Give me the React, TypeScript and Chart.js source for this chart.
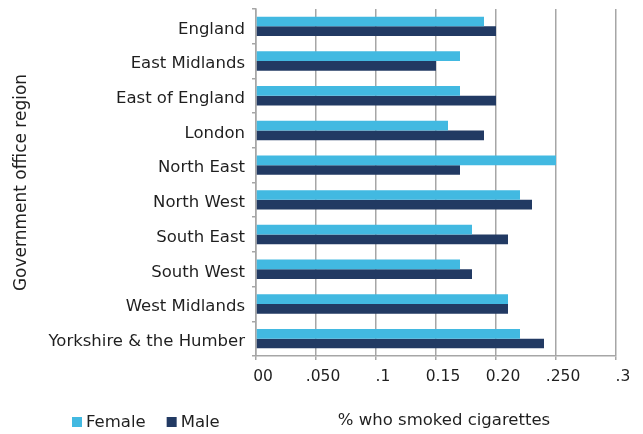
import { useEffect, useRef } from "react";
import { Chart, registerables } from "chart.js";

Chart.register(...registerables);

// Smoking prevalence by government office region
const regions = [
  "England",
  "East Midlands",
  "East of England",
  "London",
  "North East",
  "North West",
  "South East",
  "South West",
  "West Midlands",
  "Yorkshire & the Humber",
];
const femaleShare = [0.19, 0.17, 0.17, 0.16, 0.25, 0.22, 0.18, 0.17, 0.21, 0.22];
const maleShare = [0.2, 0.15, 0.2, 0.19, 0.17, 0.23, 0.21, 0.18, 0.21, 0.24];
const xTickLabels = ["00", ".050", ".1", "0.15", "0.20", ".250", ".3"];
const xAxisTitle = "% who smoked cigarettes";
const yAxisTitle = "Government office region";

const FONT = "DejaVu Sans";
const FONT_SIZE = 16.5;
const TEXT = "#1f1f1f";
const GRID = "#a6a6a6";

// Legend and axis title share one row under the tick labels
const bottomRow = {
  id: "bottomRow",
  afterDraw(chart: any) {
    const { ctx } = chart;
    const y = 423;
    ctx.save();
    ctx.font = `${FONT_SIZE}px "${FONT}"`;
    ctx.textBaseline = "middle";
    let x = 72;
    chart.data.datasets.forEach((ds: any) => {
      ctx.fillStyle = ds.backgroundColor;
      ctx.fillRect(x, y - 6, 10, 10);
      ctx.fillStyle = TEXT;
      ctx.textAlign = "left";
      ctx.fillText(ds.label, x + 14, y);
      x += 14 + ctx.measureText(ds.label).width + 21;
    });
    ctx.textAlign = "center";
    ctx.fillText(xAxisTitle, 444, y - 2);
    ctx.restore();
  },
};

export default function App() {
  const canvasRef = useRef<HTMLCanvasElement>(null);

  useEffect(() => {
    document.body.style.margin = "0";
    const chart = new Chart(canvasRef.current!, {
      type: "bar",
      data: {
        labels: regions,
        datasets: [
          {
            label: "Female",
            data: femaleShare,
            backgroundColor: "#42b9e1",
            borderWidth: 0,
            categoryPercentage: 0.56,
            barPercentage: 1,
          },
          {
            label: "Male",
            data: maleShare,
            backgroundColor: "#223a63",
            borderWidth: 0,
            categoryPercentage: 0.56,
            barPercentage: 1,
          },
        ],
      },
      options: {
        indexAxis: "y",
        animation: false,
        responsive: false,
        layout: { padding: { top: 9, right: 27, bottom: 50, left: 0 } },
        plugins: {
          legend: { display: false },
          tooltip: { enabled: false },
        },
        scales: {
          x: {
            min: 0,
            max: 0.3,
            ticks: {
              stepSize: 0.05,
              color: TEXT,
              font: { family: FONT, size: 15.5 },
              padding: 8,
              labelOffset: 7,
              maxRotation: 0,
              callback: (_v: any, i: number) => xTickLabels[i],
            },
            grid: { color: GRID, lineWidth: 1.5, tickLength: 4 },
            border: { color: GRID, width: 1.5 },
            afterFit: (scale: any) => {
              scale.height = 28;
            },
          },
          y: {
            ticks: {
              color: TEXT,
              font: { family: FONT, size: FONT_SIZE },
              padding: 7,
              labelOffset: 3,
            },
            grid: { drawOnChartArea: false, color: GRID, lineWidth: 1.5, tickLength: 4 },
            border: { color: GRID, width: 1.5 },
            title: {
              display: true,
              text: yAxisTitle,
              color: TEXT,
              font: { family: FONT, size: 17 },
              padding: { top: 11, bottom: 0 },
            },
            afterFit: (scale: any) => {
              scale.width = 256;
              scale.paddingTop = 0;
              scale.paddingBottom = 0;
            },
          },
        },
      },
      plugins: [bottomRow],
    });
    return () => chart.destroy();
  }, []);

  return <canvas ref={canvasRef} width={643} height={434} style={{ display: "block" }} />;
}
